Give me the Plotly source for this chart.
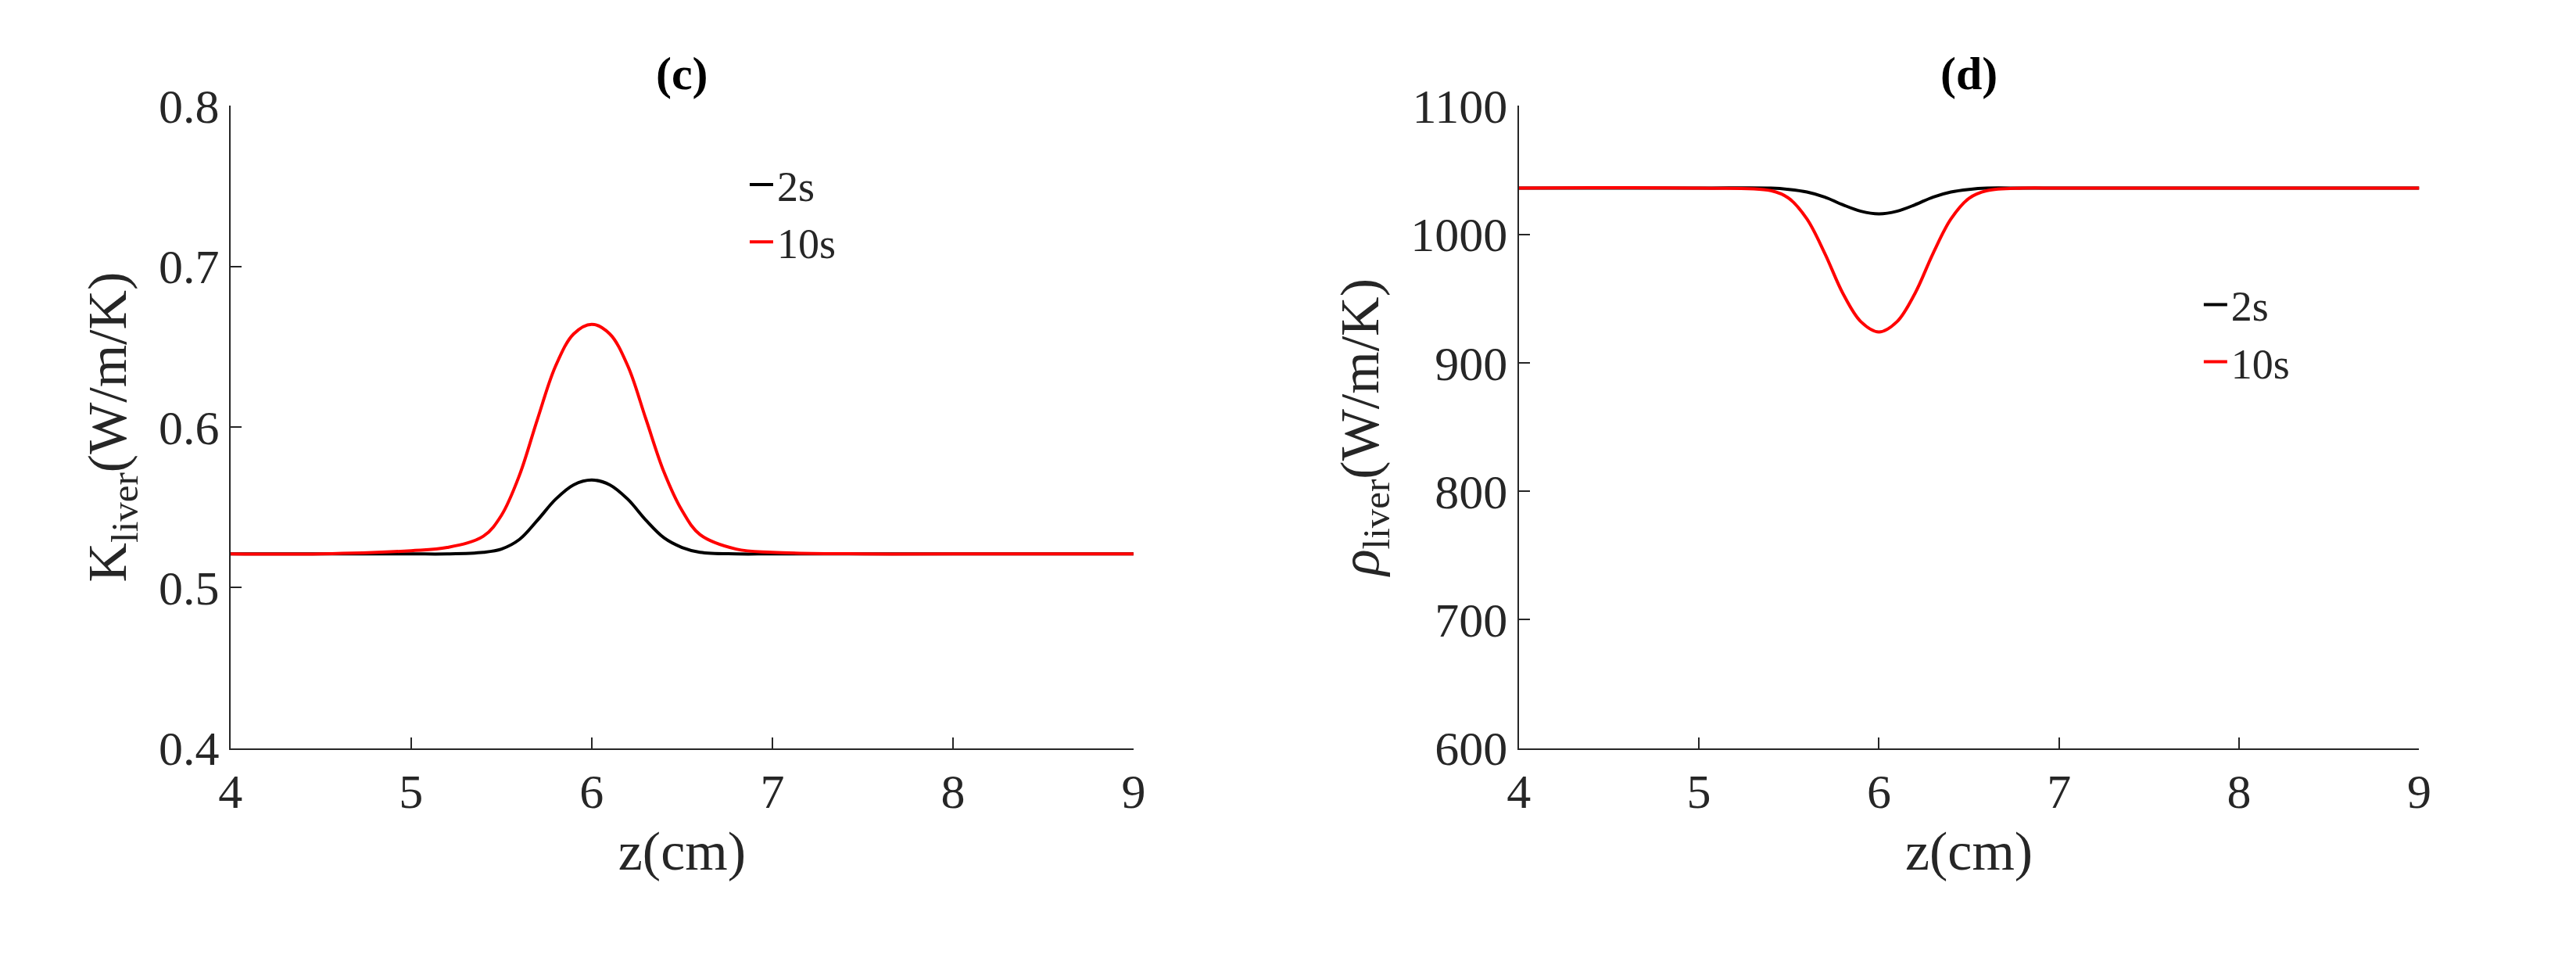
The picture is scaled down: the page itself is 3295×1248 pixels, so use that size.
import plotly.graph_objects as go

# ── Data ─────────────────────────────────────────────────────────────────────
Z_K = [4.0, 4.5, 5.0, 5.2, 5.4, 5.5, 5.6, 5.7, 5.8, 5.9, 6.0, 6.1, 6.2, 6.3, 6.4, 6.5, 6.6, 6.8, 7.0, 7.5, 8.0, 9.0]
K_2S = [0.521, 0.521, 0.521, 0.521, 0.522, 0.524, 0.530, 0.542, 0.555, 0.564, 0.567, 0.564, 0.555, 0.542, 0.531, 0.525, 0.522, 0.521, 0.521, 0.521, 0.521, 0.521]
K_10S = [0.521, 0.521, 0.523, 0.525, 0.532, 0.545, 0.570, 0.605, 0.638, 0.658, 0.664, 0.658, 0.638, 0.605, 0.572, 0.548, 0.533, 0.524, 0.522, 0.521, 0.521, 0.521]

Z_R = [4.0, 5.0, 5.4, 5.5, 5.6, 5.7, 5.8, 5.9, 6.0, 6.1, 6.2, 6.3, 6.4, 6.5, 6.6, 6.8, 7.0, 8.0, 9.0]
R_2S = [1036, 1036, 1036, 1035, 1033, 1029, 1023, 1018, 1016, 1018, 1023, 1029, 1033, 1035, 1036, 1036, 1036, 1036, 1036]
R_10S = [1036, 1036, 1034, 1028, 1012, 985, 954, 932, 924, 932, 954, 985, 1012, 1028, 1034, 1036, 1036, 1036, 1036]

FONT = "Liberation Serif, Times New Roman, serif"

fig = go.Figure()
for x, y, name, col, leg, ax in [
    (Z_K, K_2S, "2s", "black", "legend", "1"),
    (Z_K, K_10S, "10s", "red", "legend", "1"),
    (Z_R, R_2S, "2s", "black", "legend2", "2"),
    (Z_R, R_10S, "10s", "red", "legend2", "2"),
]:
    fig.add_trace(go.Scatter(
        x=x, y=y, name=name, mode="lines",
        line=dict(color=col, width=4, shape="spline", smoothing=1.0),
        xaxis="x" if ax == "1" else "x2", yaxis="y" if ax == "1" else "y2",
        legend=leg,
    ))

axis_common = dict(
    showline=True, linecolor="#262626", linewidth=2, mirror=False,
    ticks="inside", ticklen=14, tickwidth=2, tickcolor="#262626",
    showgrid=False, zeroline=False,
    tickfont=dict(size=62, family=FONT, color="#262626"),
    title_font=dict(size=70, family=FONT, color="#262626"),
)

fig.update_layout(
    width=3295, height=1248,
    paper_bgcolor="white", plot_bgcolor="white",
    margin=dict(l=0, r=0, t=0, b=0),
    font=dict(family=FONT, color="#262626"),
    xaxis=dict(domain=[0.083, 0.437], range=[4, 9], dtick=1, anchor="y",
               title=dict(text="z(cm)", standoff=18), **axis_common),
    yaxis=dict(domain=[0.224, 0.92], range=[0.4, 0.8], dtick=0.1, anchor="x",
               tickformat=".1f",
               title=dict(text="K<sub>liver</sub>(W/m/K)", standoff=18), **axis_common),
    xaxis2=dict(domain=[0.588, 0.941], range=[4, 9], dtick=1, anchor="y2",
                title=dict(text="z(cm)", standoff=18), **axis_common),
    yaxis2=dict(domain=[0.224, 0.92], range=[600, 1100], dtick=100, anchor="x2",
                title=dict(text="<i>ρ</i><sub>liver</sub>(W/m/K)", standoff=18), **axis_common),
    legend=dict(x=0.285, y=0.87, xanchor="left", yanchor="top",
                bgcolor="rgba(0,0,0,0)", font=dict(size=54, family=FONT),
                tracegroupgap=0),
    legend2=dict(x=0.855, y=0.74, xanchor="left", yanchor="top",
                 bgcolor="rgba(0,0,0,0)", font=dict(size=54, family=FONT),
                 tracegroupgap=0),
    annotations=[
        dict(text="<b>(c)</b>", x=0.26, y=0.925, xref="paper", yref="paper",
             xanchor="center", yanchor="bottom", showarrow=False,
             font=dict(size=60, family=FONT, color="black")),
        dict(text="<b>(d)</b>", x=0.7645, y=0.925, xref="paper", yref="paper",
             xanchor="center", yanchor="bottom", showarrow=False,
             font=dict(size=60, family=FONT, color="black")),
    ],
)

fig.write_html("out.html")
